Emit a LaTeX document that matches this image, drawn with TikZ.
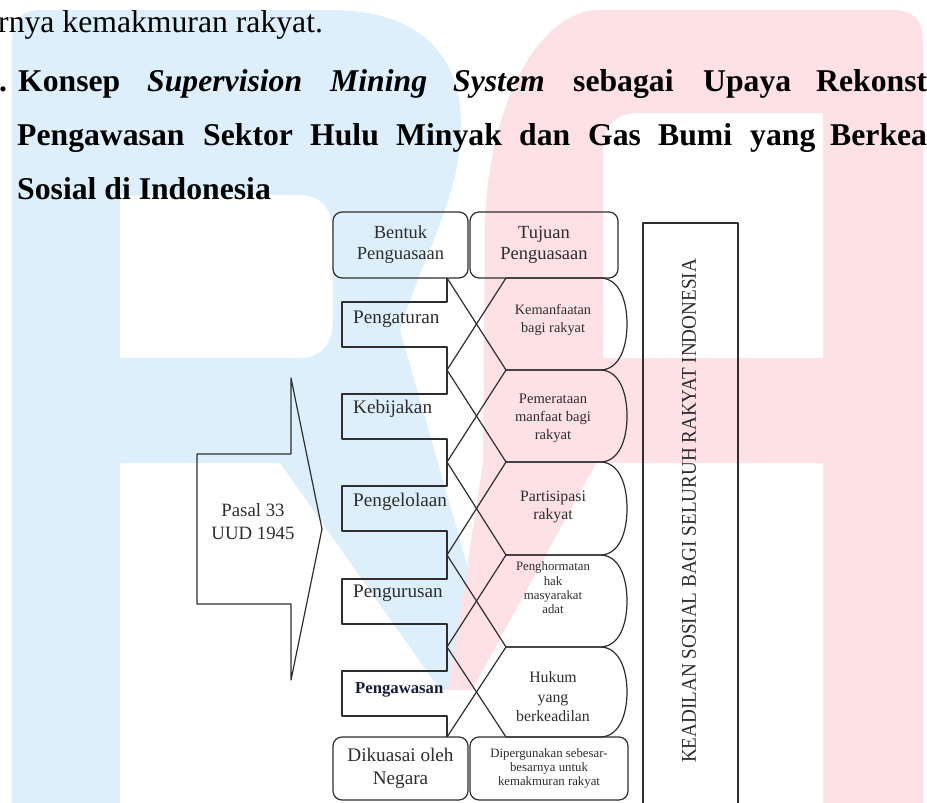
\documentclass[tikz,border=0pt]{standalone}
\usepackage{fontspec}
\setmainfont{Liberation Serif}
\definecolor{wmblue}{RGB}{222,239,252}
\definecolor{wmpink}{RGB}{253,225,229}
\definecolor{ink}{RGB}{45,45,45}
\definecolor{navy}{RGB}{22,30,58}
\begin{document}
\begin{tikzpicture}[x=1pt,y=-1pt,line join=round,
  ln/.style={draw=black!82, line width=1.2pt},
  rbox/.style={ln, rounded corners=9pt, inner sep=0pt, align=center, text=ink},
  hr/.style={anchor=base west, inner sep=0pt, font=\fontsize{31.7}{38}\selectfont},
  hb/.style={anchor=base west, inner sep=0pt, font=\fontsize{31.7}{38}\selectfont\bfseries},
  hbi/.style={anchor=base west, inner sep=0pt, font=\fontsize{31.7}{38}\selectfont\bfseries\itshape},
  tablbl/.style={anchor=base west, inner sep=0pt, text=ink, font=\fontsize{19.2}{23}\selectfont},
  rtxt/.style={align=center, inner sep=0pt, text=ink}]
\useasboundingbox (0,0) rectangle (927,803);
\clip (0,0) rectangle (927,803);
% watermark
\fill[wmblue, even odd rule]
  (12,803) -- (12,40) .. controls (12,20) and (22,10) .. (42,10) -- (330,10)
  .. controls (425,10) and (463,60) .. (461,130)
  .. controls (459,200) and (425,250) .. (400,330)
  -- (480,610) -- (462,690) -- (440,690) -- (280,463) -- (120,463) -- (120,803) -- cycle
  (120,195) -- (300,195) .. controls (322,195) and (333,210) .. (333,235) -- (333,320)
  .. controls (333,345) and (320,358) .. (300,358) -- (120,358) -- cycle;
\fill[wmpink, even odd rule]
  (923,803) -- (923,40) .. controls (923,20) and (913,10) .. (893,10) -- (600,10)
  .. controls (540,10) and (490,100) .. (485,220) -- (483,463) -- (448,690) -- (472,690)
  -- (596,463) -- (823,463) -- (823,803) -- cycle
  (603,150) .. controls (603,125) and (615,113) .. (640,113) -- (823,113) -- (823,358)
  -- (603,358) -- cycle;
% header text
\node[hr] (t1) at (-2,32) {rnya kemakmuran rakyat.};
\node[hb] (a0) at (-1,91) {.};
\node[hb] (a1) at (18,91) {Konsep};
\node[hbi] (a2) at (147,91) {Supervision};
\node[hbi] (a3) at (330,91) {Mining};
\node[hbi] (a4) at (453,91) {System};
\node[hb] (a5) at (573,91) {sebagai};
\node[hb] (a6) at (703,91) {Upaya};
\node[hb] (a7) at (816,91) {Rekonst};
\node[hb] (b1) at (17,145) {Pengawasan};
\node[hb] (b2) at (203,145) {Sektor};
\node[hb] (b3) at (310,145) {Hulu};
\node[hb] (b4) at (396,145) {Minyak};
\node[hb] (b5) at (519,145) {dan};
\node[hb] (b6) at (588,145) {Gas};
\node[hb] (b7) at (658,145) {Bumi};
\node[hb] (b8) at (750,145) {yang};
\node[hb] (b9) at (830,145) {Berkea};
\node[hb] (c1) at (17,199) {Sosial di Indonesia};
% top and bottom boxes
\node[rbox, minimum width=135pt, minimum height=66pt, font=\fontsize{18.5}{21}\selectfont] (bentuk) at (400.5,245) {Bentuk\\Penguasaan};
\node[rbox, minimum width=148pt, minimum height=66pt, font=\fontsize{18.5}{21}\selectfont] (tujuan) at (544,245) {Tujuan\\Penguasaan};
\node[rbox, minimum width=135pt, minimum height=63pt, font=\fontsize{19.2}{23}\selectfont] (dikuasai) at (400.5,768.5) {Dikuasai oleh\\Negara};
\node[rbox, minimum width=158pt, minimum height=63pt, font=\fontsize{12.8}{14}\selectfont] (diperg) at (549,768.5) {Dipergunakan sebesar-\\besarnya untuk\\kemakmuran rakyat};
% lattice points
\foreach \i/\y in {0/278,1/370,2/462,3/555,4/647,5/737} {
  \coordinate (L\i) at (447,\y);
  \coordinate (R\i) at (506,\y);
}
\foreach \i/\j in {0/1,1/2,2/3,3/4,4/5} {
  \draw[ln] (L\i) -- (R\j);
  \draw[ln] (R\i) -- (L\j);
}
% left column tabs
\foreach \y/\n in {278/370,370/462,462/555,555/647,647/737} {
  \draw[ln] (447,\y) -- (447,\y+24) -- (342,\y+24) -- (342,\y+69) -- (447,\y+69) -- (447,\n);
}
% right column shapes
\foreach \y/\n in {278/370,370/462,462/555,555/647,647/737} {
  \draw[ln] (506,\y) -- (600,\y) .. controls (619,\y) and (627,\y+22) .. (627,{(\y+\n)/2})
    .. controls (627,\n-22) and (619,\n) .. (600,\n) -- (506,\n);
}
% tab labels
\node[tablbl] (pengaturan) at (353,323) {Pengaturan};
\node[tablbl] (kebijakan) at (353,413) {Kebijakan};
\node[tablbl] (pengelolaan) at (353,506) {Pengelolaan};
\node[tablbl] (pengurusan) at (353,597) {Pengurusan};
\node[anchor=base west, inner sep=0pt, text=navy, font=\fontsize{16.7}{20}\selectfont\bfseries] (pengawasan) at (355,693) {Pengawasan};
% right labels
\node[rtxt, font=\fontsize{14.3}{18}\selectfont] (kemanfaatan) at (553,320.5) {Kemanfaatan\\bagi rakyat};
\node[rtxt, font=\fontsize{14.6}{18}\selectfont] (pemerataan) at (553,418.5) {Pemerataan\\manfaat bagi\\rakyat};
\node[rtxt, font=\fontsize{15.8}{18}\selectfont] (partisipasi) at (553,507) {Partisipasi\\rakyat};
\node[rtxt, font=\fontsize{12.8}{14.3}\selectfont] (penghormatan) at (553,588) {Penghormatan\\hak\\masyarakat\\adat};
\node[rtxt, font=\fontsize{15.8}{19.5}\selectfont] (hukum) at (553,697) {Hukum\\yang\\berkeadilan};
% arrow
\draw[ln] (197,454) -- (291,454) -- (291,378) -- (322,529) -- (291,680) -- (291,604) -- (197,604) -- cycle;
\node[rtxt, font=\fontsize{18.8}{23}\selectfont] (pasal) at (253,522) {Pasal 33\\UUD 1945};
% right frame
\draw[ln] (643,815) -- (643,223) -- (738,223) -- (738,815);
\node[rotate=90, inner sep=0pt, text=ink, font=\fontsize{21}{25}\selectfont] (keadilan) at (689,511) {\scalebox{0.91}[1]{KEADILAN SOSIAL BAGI SELURUH RAKYAT INDONESIA}};
\end{tikzpicture}
\end{document}
